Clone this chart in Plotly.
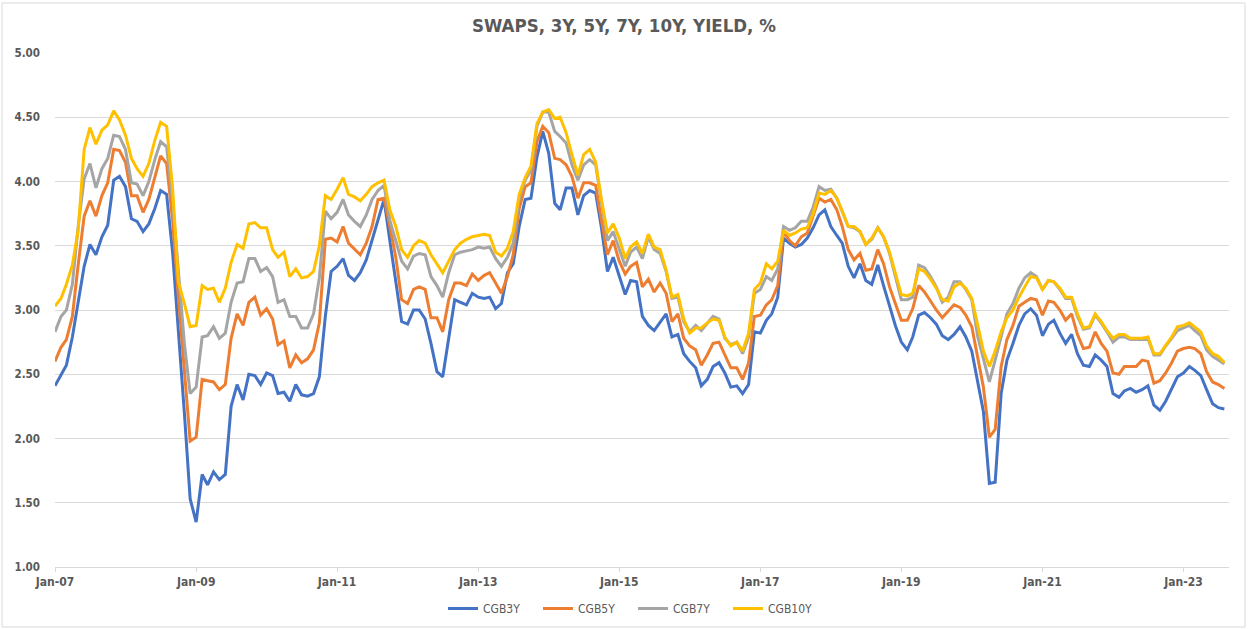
import pandas as pd
import plotly.graph_objects as go

dates = pd.date_range("2007-01-01", periods=200, freq="MS")

cgb3y = [2.41, 2.49, 2.57, 2.79, 3.05, 3.34, 3.51, 3.43, 3.57, 3.66, 4.01, 4.04, 3.96, 3.71, 3.69, 3.61, 3.67, 3.79, 3.93, 3.90,
         3.45, 2.85, 2.20, 1.53, 1.35, 1.72, 1.64, 1.74, 1.68, 1.72, 2.25, 2.42, 2.30, 2.50, 2.49, 2.42, 2.51, 2.49, 2.35, 2.36,
         2.29, 2.42, 2.34, 2.33, 2.35, 2.48, 2.95, 3.30, 3.34, 3.40, 3.27, 3.23, 3.29, 3.39, 3.54, 3.70, 3.86, 3.54, 3.22, 2.91,
         2.89, 3.00, 3.00, 2.93, 2.74, 2.52, 2.48, 2.79, 3.08, 3.06, 3.04, 3.13, 3.10, 3.09, 3.10, 3.01, 3.05, 3.29, 3.36, 3.65,
         3.86, 3.87, 4.19, 4.39, 4.22, 3.83, 3.78, 3.95, 3.95, 3.74, 3.89, 3.93, 3.91, 3.64, 3.30, 3.41, 3.26, 3.12, 3.23, 3.22,
         2.95, 2.88, 2.84, 2.91, 2.97, 2.79, 2.81, 2.66, 2.60, 2.55, 2.41, 2.46, 2.56, 2.59, 2.51, 2.40, 2.41, 2.35, 2.42, 2.83,
         2.82, 2.92, 2.97, 3.10, 3.56, 3.52, 3.49, 3.51, 3.56, 3.64, 3.74, 3.78, 3.65, 3.58, 3.52, 3.34, 3.25, 3.36, 3.23, 3.20,
         3.35, 3.19, 3.03, 2.88, 2.75, 2.69, 2.79, 2.96, 2.98, 2.94, 2.89, 2.80, 2.77, 2.81, 2.87, 2.79, 2.68, 2.42, 2.21, 1.65,
         1.66, 2.35, 2.61, 2.74, 2.88, 2.97, 3.01, 2.96, 2.80, 2.89, 2.92, 2.82, 2.74, 2.81, 2.66, 2.57, 2.56, 2.65, 2.61, 2.56,
         2.35, 2.32, 2.37, 2.39, 2.36, 2.38, 2.41, 2.26, 2.22, 2.29, 2.39, 2.48, 2.51, 2.56, 2.53, 2.49, 2.38, 2.27, 2.24, 2.23]

cgb5y = [2.60, 2.71, 2.77, 2.95, 3.35, 3.73, 3.85, 3.73, 3.89, 3.99, 4.25, 4.24, 4.15, 3.89, 3.89, 3.76, 3.86, 4.04, 4.20, 4.14,
         3.70, 3.10, 2.56, 1.98, 2.01, 2.46, 2.45, 2.44, 2.38, 2.42, 2.78, 2.97, 2.88, 3.06, 3.10, 2.96, 3.01, 2.93, 2.73, 2.76,
         2.55, 2.65, 2.59, 2.62, 2.69, 2.90, 3.55, 3.56, 3.53, 3.65, 3.52, 3.47, 3.43, 3.52, 3.65, 3.86, 3.87, 3.65, 3.41, 3.08,
         3.05, 3.16, 3.18, 3.16, 2.94, 2.94, 2.83, 3.08, 3.21, 3.21, 3.19, 3.28, 3.23, 3.27, 3.29, 3.21, 3.13, 3.26, 3.43, 3.79,
         3.96, 3.99, 4.31, 4.43, 4.38, 4.18, 4.17, 4.13, 4.04, 3.87, 3.99, 3.99, 3.97, 3.70, 3.43, 3.54, 3.38, 3.28, 3.34, 3.37,
         3.18, 3.24, 3.14, 3.21, 3.13, 2.91, 2.97, 2.78, 2.72, 2.69, 2.57, 2.65, 2.74, 2.75, 2.65, 2.55, 2.55, 2.46, 2.59, 2.95,
         2.96, 3.04, 3.08, 3.19, 3.61, 3.54, 3.50, 3.57, 3.60, 3.73, 3.87, 3.84, 3.86, 3.78, 3.65, 3.47, 3.39, 3.44, 3.31, 3.32,
         3.47, 3.36, 3.18, 3.05, 2.92, 2.92, 3.01, 3.19, 3.14, 3.07, 3.00, 2.94, 2.99, 3.04, 3.02, 2.96, 2.87, 2.64, 2.40, 2.01,
         2.07, 2.56, 2.77, 2.88, 3.03, 3.06, 3.09, 3.08, 2.96, 3.07, 3.06, 3.00, 2.92, 2.97, 2.81, 2.70, 2.71, 2.83, 2.74, 2.68,
         2.51, 2.50, 2.56, 2.56, 2.56, 2.61, 2.60, 2.43, 2.45, 2.51, 2.59, 2.68, 2.70, 2.71, 2.70, 2.66, 2.52, 2.44, 2.42, 2.39]

cgb7y = [2.83, 2.95, 3.00, 3.20, 3.65, 4.02, 4.14, 3.95, 4.10, 4.18, 4.36, 4.35, 4.25, 3.99, 3.98, 3.89, 4.00, 4.17, 4.31, 4.27,
         3.85, 3.30, 2.74, 2.35, 2.40, 2.79, 2.80, 2.87, 2.78, 2.82, 3.06, 3.21, 3.22, 3.40, 3.40, 3.30, 3.33, 3.26, 3.06, 3.08,
         2.95, 2.95, 2.86, 2.86, 2.97, 3.25, 3.77, 3.71, 3.76, 3.86, 3.74, 3.69, 3.65, 3.74, 3.86, 3.93, 3.97, 3.70, 3.54, 3.38,
         3.32, 3.42, 3.44, 3.43, 3.26, 3.19, 3.10, 3.29, 3.43, 3.45, 3.46, 3.47, 3.49, 3.48, 3.49, 3.40, 3.34, 3.41, 3.52, 3.87,
         4.01, 4.09, 4.43, 4.54, 4.54, 4.39, 4.35, 4.30, 4.13, 4.01, 4.13, 4.17, 4.13, 3.83, 3.54, 3.61, 3.47, 3.34, 3.45, 3.49,
         3.40, 3.57, 3.47, 3.44, 3.30, 3.09, 3.10, 2.91, 2.83, 2.88, 2.84, 2.90, 2.95, 2.93, 2.78, 2.73, 2.75, 2.66, 2.79, 3.13,
         3.16, 3.26, 3.23, 3.32, 3.65, 3.62, 3.64, 3.69, 3.69, 3.80, 3.96, 3.93, 3.94, 3.87, 3.77, 3.65, 3.64, 3.61, 3.51, 3.55,
         3.64, 3.57, 3.44, 3.26, 3.08, 3.08, 3.10, 3.35, 3.33, 3.26, 3.18, 3.06, 3.10, 3.22, 3.22, 3.16, 3.08, 2.79, 2.61, 2.44,
         2.61, 2.79, 2.97, 3.05, 3.17, 3.25, 3.29, 3.26, 3.16, 3.23, 3.22, 3.16, 3.09, 3.09, 2.95, 2.85, 2.86, 2.96, 2.90, 2.83,
         2.75, 2.79, 2.79, 2.77, 2.77, 2.77, 2.78, 2.65, 2.65, 2.72, 2.78, 2.84, 2.86, 2.88, 2.84, 2.80, 2.69, 2.64, 2.61, 2.58]

cgb10y = [3.03, 3.09, 3.20, 3.35, 3.62, 4.25, 4.42, 4.29, 4.40, 4.44, 4.55, 4.48, 4.36, 4.18, 4.10, 4.04, 4.14, 4.32, 4.46, 4.43,
          3.95, 3.22, 3.05, 2.87, 2.88, 3.19, 3.16, 3.17, 3.06, 3.17, 3.37, 3.51, 3.48, 3.67, 3.68, 3.64, 3.64, 3.47, 3.41, 3.45,
          3.26, 3.32, 3.25, 3.26, 3.30, 3.50, 3.89, 3.86, 3.94, 4.03, 3.90, 3.88, 3.85, 3.90, 3.96, 3.99, 4.01, 3.78, 3.65, 3.47,
          3.41, 3.50, 3.54, 3.52, 3.43, 3.36, 3.29, 3.38, 3.47, 3.52, 3.55, 3.57, 3.58, 3.59, 3.58, 3.45, 3.42, 3.48, 3.61, 3.90,
          4.03, 4.12, 4.45, 4.54, 4.56, 4.49, 4.50, 4.38, 4.21, 4.05, 4.21, 4.25, 4.15, 3.86, 3.60, 3.67, 3.56, 3.40, 3.49, 3.53,
          3.44, 3.59, 3.49, 3.47, 3.31, 3.10, 3.12, 2.93, 2.82, 2.86, 2.86, 2.90, 2.93, 2.92, 2.79, 2.72, 2.75, 2.68, 2.82, 3.16,
          3.21, 3.36, 3.32, 3.38, 3.62, 3.58, 3.60, 3.63, 3.64, 3.75, 3.91, 3.90, 3.93, 3.87, 3.77, 3.65, 3.65, 3.61, 3.51, 3.56,
          3.64, 3.57, 3.45, 3.29, 3.12, 3.11, 3.13, 3.32, 3.30, 3.24, 3.17, 3.08, 3.07, 3.18, 3.21, 3.17, 3.09, 2.88, 2.68, 2.56,
          2.68, 2.83, 2.94, 3.00, 3.10, 3.18, 3.26, 3.25, 3.16, 3.23, 3.22, 3.17, 3.10, 3.10, 2.97, 2.86, 2.87, 2.97, 2.91, 2.84,
          2.78, 2.81, 2.81, 2.78, 2.78, 2.78, 2.79, 2.66, 2.66, 2.72, 2.79, 2.87, 2.88, 2.90, 2.87, 2.83, 2.72, 2.66, 2.64, 2.59]

series_names = ["CGB3Y", "CGB5Y", "CGB7Y", "CGB10Y"]
series_values = [cgb3y, cgb5y, cgb7y, cgb10y]
colors = ["#4472C4", "#ED7D31", "#A5A5A5", "#FFC000"]

x_ticks = pd.date_range("2007-01-01", "2023-01-01", freq="24MS")
x_tick_labels = ["Jan-07", "Jan-09", "Jan-11", "Jan-13", "Jan-15", "Jan-17", "Jan-19", "Jan-21", "Jan-23"]
y_ticks = [1.0, 1.5, 2.0, 2.5, 3.0, 3.5, 4.0, 4.5, 5.0]

FONT = "Liberation Sans Narrow, Arial Narrow, DejaVu Sans Condensed, Arial, sans-serif"
TXT = "#595959"
GRID = "#D9D9D9"

fig = go.Figure()
for name, vals, col in zip(series_names, series_values, colors):
    fig.add_trace(go.Scatter(x=dates, y=vals, mode="lines", name=name,
                             line=dict(color=col, width=3)))

W, H = 1248, 629
L, R, T, B = 55, 19, 53, 62
pw, ph = W - L - R, H - T - B

def px_x(p):
    return (p - L) / pw

def px_y(p):
    return (H - B - p) / ph

fig.update_layout(
    width=W, height=H,
    margin=dict(l=L, r=R, t=T, b=B, autoexpand=False),
    paper_bgcolor="white", plot_bgcolor="white",
    font=dict(family=FONT, color=TXT),
    title=dict(text="<b>SWAPS, 3Y, 5Y, 7Y, 10Y, YIELD, %</b>", x=0.5, xanchor="center",
               y=1 - 26 / H, yanchor="middle", yref="container", automargin=False,
               font=dict(size=18.5, color=TXT, family=FONT)),
    showlegend=True,
    legend=dict(orientation="h", x=px_x(443), xanchor="left", y=px_y(594), yanchor="top",
                font=dict(size=12, color=TXT, family=FONT), bgcolor="rgba(0,0,0,0)",
                itemwidth=30, tracegroupgap=0, entrywidth=50, entrywidthmode="pixels"),
    xaxis=dict(range=["2007-01-01", "2023-08-25"], tickvals=x_ticks,
               ticktext=[f"<b>{t}</b>" for t in x_tick_labels], automargin=False,
               showgrid=False, showline=True, linecolor=GRID, linewidth=1,
               ticks="outside", ticklen=4, tickcolor=GRID,
               tickfont=dict(size=12, color=TXT, family=FONT), zeroline=False),
    yaxis=dict(range=[1, 5], tickvals=y_ticks, ticktext=[f"<b>{v:.2f}</b>" for v in y_ticks],
               automargin=False,
               showgrid=True, gridcolor=GRID, gridwidth=1, zeroline=False, showline=False,
               ticks="", tickfont=dict(size=11.5, color=TXT, family=FONT), ticklabelstandoff=14),
    shapes=[dict(type="rect", xref="paper", yref="paper",
                 x0=px_x(2), x1=px_x(1245), y0=px_y(627), y1=px_y(3),
                 line=dict(color=GRID, width=1), fillcolor="rgba(0,0,0,0)", layer="below")],
)

fig.write_html("out.html", config={"displayModeBar": False},
               post_script="document.body.style.margin='0';document.body.style.overflow='hidden';")
